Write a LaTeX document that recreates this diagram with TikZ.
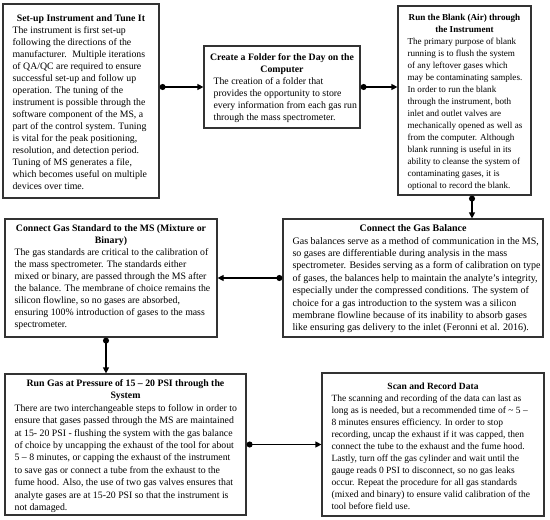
\documentclass[tikz,border=0pt]{standalone}
\usepackage{fontspec}
\setmainfont{Liberation Serif}
\usetikzlibrary{arrows.meta,calc}
\tikzset{
  boxd/.style={draw=black!80, line width=1.2pt, rectangle, inner sep=0pt},
  ttl/.style={anchor=north, inner sep=0pt, align=center, font=\fontsize{9.8}{12}\selectfont\bfseries},
  txt/.style={anchor=north west, inner sep=0pt, align=left, font=\fontsize{9.8}{12}\selectfont},
  small/.style={font=\fontsize{9.1}{12}\selectfont},
  smallb/.style={font=\fontsize{9.1}{12}\selectfont\bfseries},
  mid/.style={font=\fontsize{9.5}{12}\selectfont},
  midb/.style={font=\fontsize{9.5}{12}\selectfont\bfseries},
  wide/.style={font=\fontsize{10}{12.4}\selectfont},
  wideb/.style={font=\fontsize{10}{12.4}\selectfont\bfseries},
  loose/.style={font=\fontsize{9.8}{12.4}\selectfont},
  looseb/.style={font=\fontsize{9.8}{12.4}\selectfont\bfseries},
  conn/.style={line width=1.2pt, {Circle[length=6pt]}-{Triangle[length=6pt,width=6pt]}},
}
\begin{document}
\begin{tikzpicture}[x=1pt,y=-1pt]
\useasboundingbox (0,0) rectangle (550,520);
% boxes
\node[boxd, minimum width=156pt, minimum height=194pt] (b1) at (81,101) {};
\node[boxd, minimum width=156pt, minimum height=82pt] (b2) at (282,87) {};
\node[boxd, minimum width=133pt, minimum height=189pt] (b3) at (464.5,100.5) {};
\node[boxd, minimum width=212pt, minimum height=118pt] (b4) at (111,278) {};
\node[boxd, minimum width=260pt, minimum height=118pt] (b5) at (413,278) {};
\node[boxd, minimum width=241pt, minimum height=141pt] (b6) at (125.5,444.5) {};
\node[boxd, minimum width=222pt, minimum height=143pt] (b7) at (433,444.5) {};
% box 1
\node[ttl] (h1) at ($(b1.north)+(0,11)$) {Set-up Instrument and Tune It};
\node[txt] (t1) at ($(b1.north west)+(10,23)$) {The instrument is first set-up\\
following the directions of the\\
manufacturer.~ Multiple iterations\\
of QA/QC are required to ensure\\
successful set-up and follow up\\
operation. The tuning of the\\
instrument is possible through the\\
software component of the MS, a\\
part of the control system. Tuning\\
is vital for the peak positioning,\\
resolution, and detection period.\\
Tuning of MS generates a file,\\
which becomes useful on multiple\\
devices over time.};
% box 2
\node[ttl] (h2) at ($(b2.north)+(0,8)$) {Create a Folder for the Day on the\\ Computer};
\node[txt] (t2) at ($(b2.north west)+(10,32)$) {The creation of a folder that\\
provides the opportunity to store\\
every information from each gas run\\
through the mass spectrometer.};
% box 3
\node[ttl, smallb] (h3) at ($(b3.north)+(0,8.5)$) {Run the Blank (Air) through\\ the Instrument};
\node[txt, small] (t3) at ($(b3.north west)+(10,32.5)$) {The primary purpose of blank\\
running is to flush the system\\
of any leftover gases which\\
may be contaminating samples.\\
In order to run the blank\\
through the instrument, both\\
inlet and outlet valves are\\
mechanically opened as well as\\
from the computer. Although\\
blank running is useful in its\\
ability to cleanse the system of\\
contaminating gases, it is\\
optional to record the blank.};
% box 4
\node[ttl] (h4) at ($(b4.north)+(0,6)$) {Connect Gas Standard to the MS (Mixture or\\ Binary)};
\node[txt] (t4) at ($(b4.north west)+(10,30)$) {The gas standards are critical to the calibration of\\
the mass spectrometer. The standards either\\
mixed or binary, are passed through the MS after\\
the balance. The membrane of choice remains the\\
silicon flowline, so no gases are absorbed,\\
ensuring 100\% introduction of gases to the mass\\
spectrometer.};
% box 5
\node[ttl, wideb] (h5) at ($(b5.north)+(0,6)$) {Connect the Gas Balance};
\node[txt, wide] (t5) at ($(b5.north west)+(10,18.4)$) {Gas balances serve as a method of communication in the MS,\\
so gases are differentiable during analysis in the mass\\
spectrometer. Besides serving as a form of calibration on type\\
of gases, the balances help to maintain the analyte’s integrity,\\
especially under the compressed conditions. The system of\\
choice for a gas introduction to the system was a silicon\\
membrane flowline because of its inability to absorb gases\\
like ensuring gas delivery to the inlet (Feronni et al. 2016).};
% box 6
\node[ttl, looseb] (h6) at ($(b6.north)+(0,6)$) {Run Gas at Pressure of 15 – 20 PSI through the\\ System};
\node[txt, loose] (t6) at ($(b6.north west)+(10,30.8)$) {There are two interchangeable steps to follow in order to\\
ensure that gases passed through the MS are maintained\\
at 15- 20 PSI - flushing the system with the gas balance\\
of choice by uncapping the exhaust of the tool for about\\
5 – 8 minutes, or capping the exhaust of the instrument\\
to save gas or connect a tube from the exhaust to the\\
fume hood. Also, the use of two gas valves ensures that\\
analyte gases are at 15-20 PSI so that the instrument is\\
not damaged.};
% box 7
\node[ttl, midb] (h7) at ($(b7.north)+(0,10)$) {Scan and Record Data};
\node[txt, mid] (t7) at ($(b7.north west)+(10,22)$) {The scanning and recording of the data can last as\\
long as is needed, but a recommended time of \textasciitilde{} 5 –\\
8 minutes ensures efficiency. In order to stop\\
recording, uncap the exhaust if it was capped, then\\
connect the tube to the exhaust and the fume hood.\\
Lastly, turn off the gas cylinder and wait until the\\
gauge reads 0 PSI to disconnect, so no gas leaks\\
occur. Repeat the procedure for all gas standards\\
(mixed and binary) to ensure valid calibration of the\\
tool before field use.};
% connectors
\coordinate (x3) at (472,0);
\coordinate (x5) at (106,0);
\draw[conn] (b1.east |- b2.west) -- (b2.west);
\draw[conn] (b2.east) -- (b3.west |- b2.east);
\draw[conn] (b3.south -| x3) -- (b5.north -| x3);
\draw[conn] (b5.west) -- (b4.east);
\draw[conn] (b4.south -| x5) -- (b6.north -| x5);
\draw[conn] (b6.east) -- (b7.west);
\end{tikzpicture}
\end{document}
